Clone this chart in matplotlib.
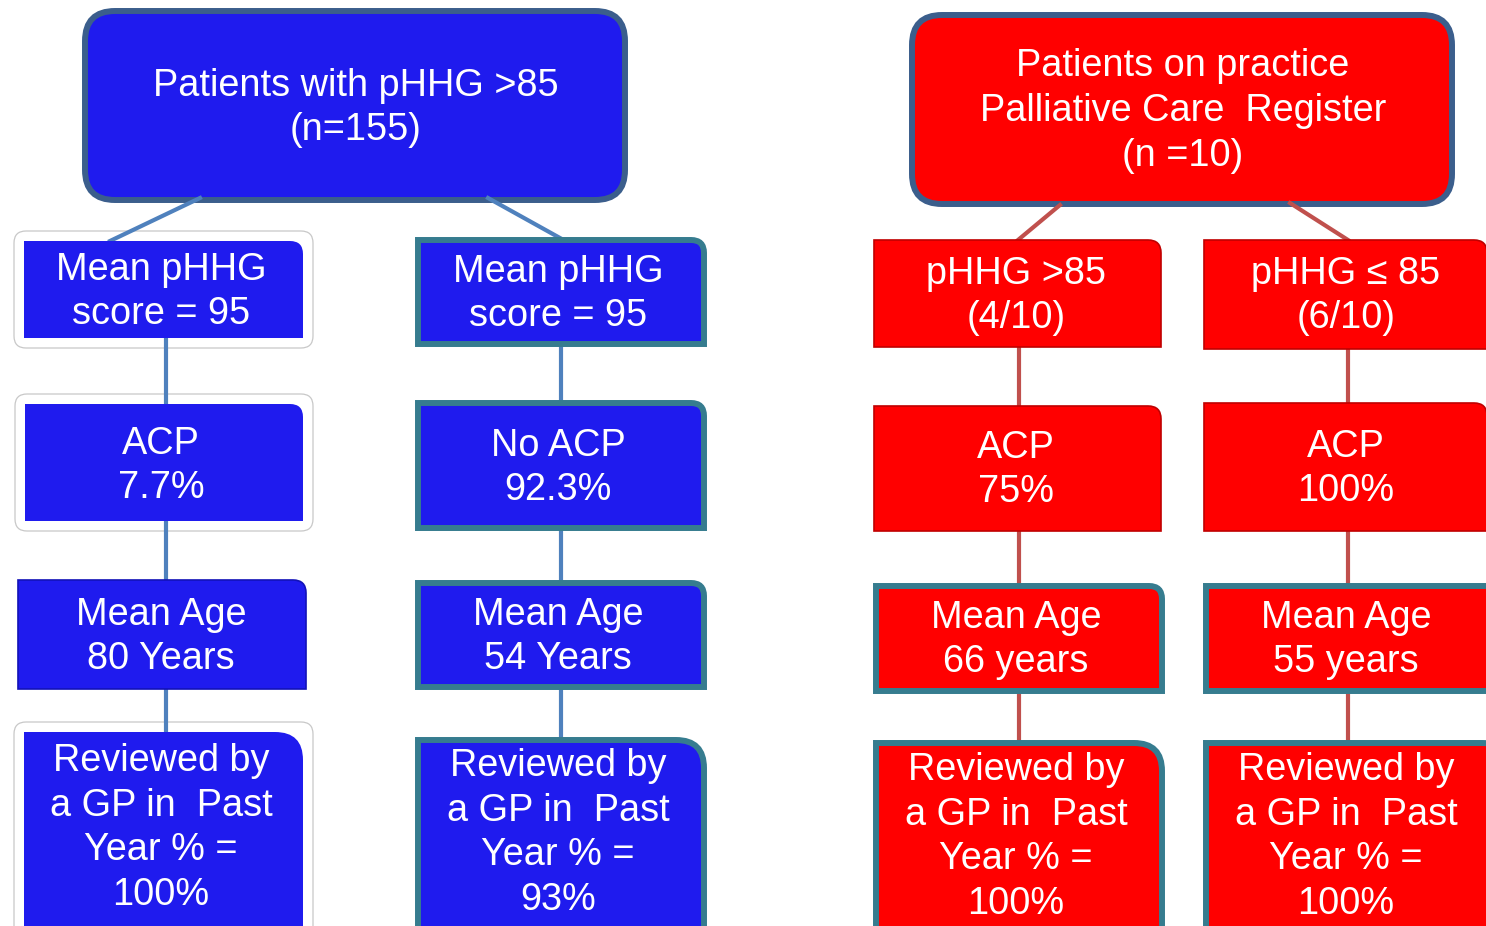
import matplotlib
matplotlib.use("Agg")
import matplotlib.pyplot as plt
from matplotlib.patches import FancyBboxPatch, PathPatch
from matplotlib.path import Path

plt.rcParams['font.family'] = ['Liberation Sans', 'DejaVu Sans']

# chart text
top_labels = ["Patients with pHHG >85\n(n=155)",
              "Patients on practice\nPalliative Care  Register\n(n =10)"]
blue_left = ["Mean pHHG\nscore = 95", "ACP\n7.7%", "Mean Age\n80 Years",
             "Reviewed by\na GP in  Past\nYear % =\n100%"]
blue_right = ["Mean pHHG\nscore = 95", "No ACP\n92.3%", "Mean Age\n54 Years",
              "Reviewed by\na GP in  Past\nYear % =\n93%"]
red_left = ["pHHG >85\n(4/10)", "ACP\n75%", "Mean Age\n66 years",
            "Reviewed by\na GP in  Past\nYear % =\n100%"]
red_right = ["pHHG \u2264 85\n(6/10)", "ACP\n100%", "Mean Age\n55 years",
             "Reviewed by\na GP in  Past\nYear % =\n100%"]

BLUE = "#1F1BEE"
RED = "#FF0000"
TOP_EDGE = "#3B5E8C"
TEAL = "#367C8F"
BLUE_LINE = "#4F81BD"
RED_LINE = "#C0504D"
FS = 27.3
LS = 1.31


def one_round(x0, y0, x1, y1, r):
    # rectangle with rounded top-right corner (y grows downwards)
    verts = [(x0, y0), (x1 - r, y0), (x1, y0), (x1, y0 + r),
             (x1, y1), (x0, y1), (x0, y0)]
    codes = [Path.MOVETO, Path.LINETO, Path.CURVE3, Path.CURVE3,
             Path.LINETO, Path.LINETO, Path.CLOSEPOLY]
    return Path(verts, codes)


fig = plt.figure(figsize=(14.86, 9.26), dpi=100)
ax = fig.add_axes([0, 0, 1, 1])
ax.set_xlim(0, 1486)
ax.set_ylim(926, 0)
ax.axis("off")

# connectors
LW = 3.0
for (xa, ya, xb, yb) in [(200, 198, 110, 241), (488, 198, 560, 238)]:
    ax.plot([xa, xb], [ya, yb], color=BLUE_LINE, lw=LW, zorder=2.5)
for (xa, ya, xb, yb) in [(1060, 205, 1018, 240), (1290, 203, 1348, 240)]:
    ax.plot([xa, xb], [ya, yb], color=RED_LINE, lw=LW, zorder=2.5)
for x, segs in [(166, [(338, 404), (521, 580), (689, 732)]),
                (561, [(344, 403), (528, 583), (687, 740)])]:
    for s in segs:
        ax.plot([x, x], s, color=BLUE_LINE, lw=LW, zorder=2.5)
for x, segs in [(1019, [(347, 406), (531, 586), (691, 743)]),
                (1348, [(349, 403), (531, 586), (691, 743)])]:
    for s in segs:
        ax.plot([x, x], s, color=RED_LINE, lw=LW, zorder=2.5)

# top boxes
for (x0, y0, x1, y1), col, lab, cx, cy in [
        ((85, 11, 625, 200), BLUE, top_labels[0], 356, 108),
        ((912, 15, 1452, 204), RED, top_labels[1], 1183, 111)]:
    ax.add_patch(FancyBboxPatch((x0, y0), x1 - x0, y1 - y0,
                                boxstyle="round,pad=0,rounding_size=30",
                                fc=col, ec=TOP_EDGE, lw=4.3, zorder=2))
    ax.text(cx, cy, lab, color="white", fontsize=FS, ha="center",
            va="center", linespacing=LS, zorder=3)

# column boxes: (labels, fill, x-ranges, rows, text centres, style per row)
rows_bl = [(241, 338), (404, 521), (580, 689), (732, 940)]
rows_br = [(240, 344), (403, 528), (583, 687), (740, 940)]
rows_rl = [(240, 347), (406, 531), (586, 691), (743, 940)]
rows_rr = [(240, 349), (403, 531), (586, 691), (743, 940)]

columns = [
    (blue_left, BLUE, [(24, 303), (25, 303), (18, 306), (24, 303)], rows_bl,
     161, [292, 466, 637, 828], ["frame", "frame", "bevel", "frame"]),
    (blue_right, BLUE, [(418, 704)] * 4, rows_br, 558,
     [294, 468, 637, 833], ["teal", "teal", "teal", "teal"]),
    (red_left, RED, [(874, 1161), (874, 1161), (876, 1162), (876, 1162)],
     rows_rl, 1016, [296, 470, 640, 837], ["bevel", "bevel", "teal", "teal"]),
    (red_right, RED, [(1204, 1487), (1204, 1487), (1206, 1510), (1206, 1510)],
     rows_rr, 1346, [296, 469, 640, 837], ["bevel", "bevel", "teal", "teal"]),
]

for labels, col, xs, rows, cx, cys, styles in columns:
    for i, ((x0, x1), (y0, y1), lab, cy, st) in enumerate(
            zip(xs, rows, labels, cys, styles)):
        r = 28 if i == 3 else 13
        if st == "frame":
            ax.add_patch(FancyBboxPatch((x0 - 10, y0 - 10), x1 - x0 + 20,
                                        y1 - y0 + 20,
                                        boxstyle="round,pad=0,rounding_size=12",
                                        fc="white", ec="#C8C8C8", lw=0.9,
                                        zorder=2))
            ax.add_patch(PathPatch(one_round(x0, y0, x1, y1, r), fc=col,
                                   ec="none", zorder=3))
        elif st == "teal":
            ax.add_patch(PathPatch(one_round(x0, y0, x1, y1, r), fc=col,
                                   ec=TEAL, lw=4.3, zorder=3))
        else:
            dark = "#1212B8" if col == BLUE else "#C00000"
            ax.add_patch(PathPatch(one_round(x0, y0, x1, y1, r), fc=col,
                                   ec=dark, lw=1.2, zorder=3))
        ax.text(cx, cy, lab, color="white", fontsize=FS, ha="center",
                va="center", linespacing=LS, zorder=4)

fig.savefig("out.png", dpi=100, facecolor="white")
